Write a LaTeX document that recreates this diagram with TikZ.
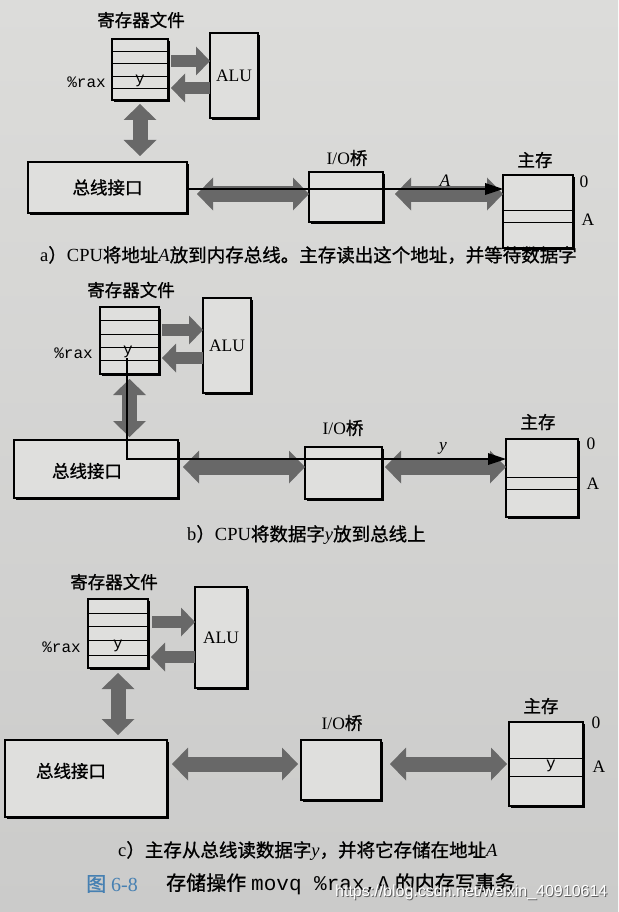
\documentclass[tikz,border=0pt]{standalone}
\usepackage{fontspec}
\setmainfont{Liberation Serif}
\setmonofont{Liberation Mono}
\newfontfamily\cjk{Noto Sans CJK SC}[FakeBold=1]
\newfontfamily\wmfont{Liberation Sans}
\usetikzlibrary{arrows.meta,shadows}
\definecolor{pagetop}{RGB}{220,220,218}
\definecolor{pagebot}{RGB}{203,203,202}
\definecolor{boxbg}{RGB}{223,223,221}
\definecolor{arrowgray}{RGB}{104,104,104}
\definecolor{figblue}{RGB}{70,128,178}
\newcommand{\zhtxt}[1]{{\cjk #1}}
\tikzset{
  box/.style={draw=black, line width=1.1pt, fill=boxbg, inner sep=0pt, outer sep=0pt,
    drop shadow={shadow xshift=2.4pt, shadow yshift=-2.4pt, fill=black, opacity=1}},
  rowline/.style={draw=black, line width=0.9pt},
  lab/.style={inner sep=0pt, font=\fontsize{17.5}{20}\selectfont\cjk},
  latin/.style={inner sep=0pt, font=\fontsize{17.5}{20}\selectfont},
  mono/.style={inner sep=0pt, font=\fontsize{16}{18}\selectfont\ttfamily},
  captxt/.style={inner sep=0pt, anchor=west, font=\fontsize{18.5}{22}\selectfont},
  figcap/.style={inner sep=0pt, anchor=west, font=\fontsize{20}{24}\selectfont},
  fat/.style={draw=arrowgray, line width=15pt,
    {Triangle[length=16pt,width=33pt,line width=0pt]}-{Triangle[length=16pt,width=33pt,line width=0pt]}},
  fatone/.style={draw=arrowgray, line width=12pt, -{Triangle[length=14pt,width=29pt,line width=0pt]}},
  busline/.style={draw=black, line width=2.8pt, -{Triangle[length=18pt,width=12pt,line width=0pt]}},
}
\begin{document}
\begin{tikzpicture}[x=1pt,y=-1pt]
\useasboundingbox (0,0) rectangle (618,912);
\shade[top color=pagetop, bottom color=pagebot] (0,0) rectangle (618,912);

% ================= Panel a =================
\node[lab] (regAlab) at (141,20) {寄存器文件};
\node[box, minimum width=56pt, minimum height=61pt] (regA) at (140,69.5) {};
\foreach \d in {12,24,37,49}
  \draw[rowline] ([yshift=-\d pt]regA.north west) -- ([yshift=-\d pt]regA.north east);
\node[mono, anchor=east] (raxA) at (106,82) {\%rax};
\node[mono] (yA) at (140,81) {y};
\node[box, minimum width=48pt, minimum height=85pt, font=\fontsize{17.5}{20}\selectfont] (aluA) at (234,75.5) {ALU};
\node[box, lab, minimum width=159pt, minimum height=51pt] (busA) at (107.5,187.5) {总线接口};
\node[box, minimum width=74pt, minimum height=50pt] (brA) at (346,197) {};
\node[latin] (brAlab) at (347,158) {I/O\zhtxt{桥}};
\node[box, minimum width=70pt, minimum height=73pt] (memA) at (538,211.5) {};
\foreach \d in {35,47}
  \draw[rowline] ([yshift=-\d pt]memA.north west) -- ([yshift=-\d pt]memA.north east);
\node[lab] (memAlab) at (535,160) {主存};
\node[latin] (memA0) at (584,182) {0};
\node[latin] (memAA) at (588,220) {A};
\node[latin] (addrA) at (445,181) {\textit{A}};

\coordinate (yA1) at (0,61);
\coordinate (yA2) at (0,88);
\coordinate (yA3) at (0,194);
\coordinate (yA4) at (0,189);
\draw[fatone, shorten <=3pt] (regA.east |- yA1) -- (aluA.west |- yA1);
\draw[fatone, shorten >=3pt] (aluA.west |- yA2) -- (regA.east |- yA2);
\draw[fat, shorten <=4pt, shorten >=6pt] (regA.south) -- (busA.north -| regA.south);
\draw[fat, shorten <=10pt] (busA.east |- yA3) -- (brA.west |- yA3);
\draw[fat, shorten <=12pt] (brA.east |- yA3) -- (memA.west |- yA3);
\draw[busline] (busA.east |- yA4) -- (memA.west |- yA4);

\node[captxt] (capA) at (40,255) {a\zhtxt{）}CPU\zhtxt{将地址}\textit{A}\zhtxt{放到内存总线。主存读出这个地址，并等待数据字}};

% ================= Panel b =================
\node[lab] (regBlab) at (131,290) {寄存器文件};
\node[box, minimum width=59pt, minimum height=67pt] (regB) at (129.5,340.5) {};
\foreach \d in {13.5,27,40.5,53}
  \draw[rowline] ([yshift=-\d pt]regB.north west) -- ([yshift=-\d pt]regB.north east);
\node[mono, anchor=east] (raxB) at (93,353) {\%rax};
\node[mono] (yB) at (128,352) {y};
\node[box, minimum width=48pt, minimum height=95pt, font=\fontsize{17.5}{20}\selectfont] (aluB) at (227,345.5) {ALU};
\node[box, minimum width=164pt, minimum height=58pt] (busB) at (96,469) {};
\node[lab] (busBlab) at (87,471) {总线接口};
\node[box, minimum width=77pt, minimum height=52pt] (brB) at (343.5,473) {};
\node[latin] (brBlab) at (343,428) {I/O\zhtxt{桥}};
\node[box, minimum width=72pt, minimum height=78pt] (memB) at (542,478) {};
\foreach \d in {38,50}
  \draw[rowline] ([yshift=-\d pt]memB.north west) -- ([yshift=-\d pt]memB.north east);
\node[lab] (memBlab) at (538,422) {主存};
\node[latin] (memB0) at (591,444) {0};
\node[latin] (memBA) at (593,484) {A};
\node[latin] (dataB) at (443,448) {\textit{y}};

\coordinate (yB1) at (0,330);
\coordinate (yB2) at (0,358);
\coordinate (yB3) at (0,467);
\coordinate (yB4) at (0,459);
\coordinate (ystartB) at (127,358);
\draw[fatone, shorten <=3pt] (regB.east |- yB1) -- (aluB.west |- yB1);
\draw[fatone, shorten >=3pt] (aluB.west |- yB2) -- (regB.east |- yB2);
\draw[fat, shorten <=5pt, shorten >=3pt] (regB.south) -- (busB.north -| regB.south);
\draw[fat, shorten <=5pt] (busB.east |- yB3) -- (brB.west |- yB3);
\draw[fat, shorten <=3pt] (brB.east |- yB3) -- (memB.west |- yB3);
\draw[busline] (ystartB) |- (memB.west |- yB4);

\node[captxt] (capB) at (187,535) {b\zhtxt{）}CPU\zhtxt{将数据字}\textit{y}\zhtxt{放到总线上}};

% ================= Panel c =================
\node[lab] (regClab) at (114,582) {寄存器文件};
\node[box, minimum width=60pt, minimum height=69pt] (regC) at (118,633.5) {};
\foreach \d in {14,27,41,56}
  \draw[rowline] ([yshift=-\d pt]regC.north west) -- ([yshift=-\d pt]regC.north east);
\node[mono, anchor=east] (raxC) at (81,647) {\%rax};
\node[mono] (yC) at (118,646) {y};
\node[box, minimum width=52pt, minimum height=101pt, font=\fontsize{17.5}{20}\selectfont] (aluC) at (221,637.5) {ALU};
\node[box, minimum width=162pt, minimum height=77pt] (busC) at (86,778.5) {};
\node[lab] (busClab) at (71,771) {总线接口};
\node[box, minimum width=80pt, minimum height=60pt] (brC) at (341,770) {};
\node[latin] (brClab) at (342,723) {I/O\zhtxt{桥}};
\node[box, minimum width=74pt, minimum height=84pt] (memC) at (546,764) {};
\foreach \d in {36,54}
  \draw[rowline] ([yshift=-\d pt]memC.north west) -- ([yshift=-\d pt]memC.north east);
\node[mono] (yMemC) at (551,766) {y};
\node[lab] (memClab) at (541,706) {主存};
\node[latin] (memC0) at (596,723) {0};
\node[latin] (memCA) at (599,767) {A};

\coordinate (yC1) at (0,622);
\coordinate (yC2) at (0,657);
\coordinate (yC3) at (0,764);
\draw[fatone, shorten <=4pt] (regC.east |- yC1) -- (aluC.west |- yC1);
\draw[fatone, shorten >=3pt] (aluC.west |- yC2) -- (regC.east |- yC2);
\draw[fat, shorten <=5pt, shorten >=5pt] (regC.south) -- (busC.north -| regC.south);
\draw[fat, shorten <=5pt, shorten >=3pt] (busC.east |- yC3) -- (brC.west |- yC3);
\draw[fat, shorten <=9pt, shorten >=2pt] (brC.east |- yC3) -- (memC.west |- yC3);

\node[captxt] (capC) at (118,851) {c\zhtxt{）主存从总线读数据字}\textit{y}\zhtxt{，并将它存储在地址}\textit{A}};

% ================= Figure caption =================
\node[figcap, text=figblue] (fignum) at (86,884) {{\cjk 图} 6-8};
\node[figcap] (figtitle) at (166,884) {\zhtxt{存储操作} {\fontsize{21}{24}\selectfont\ttfamily movq \%rax,A} \zhtxt{的内存写事务}};
\node[inner sep=0pt, anchor=west, font=\fontsize{16}{18}\selectfont\wmfont, text=gray!75!black] (wmshadow) at (336,893) {https://blog.csdn.net/weixin\_40910614};
\node[inner sep=0pt, anchor=west, font=\fontsize{16}{18}\selectfont\wmfont, text=white] (wm) at (335,892) {https://blog.csdn.net/weixin\_40910614};
\end{tikzpicture}
\end{document}
